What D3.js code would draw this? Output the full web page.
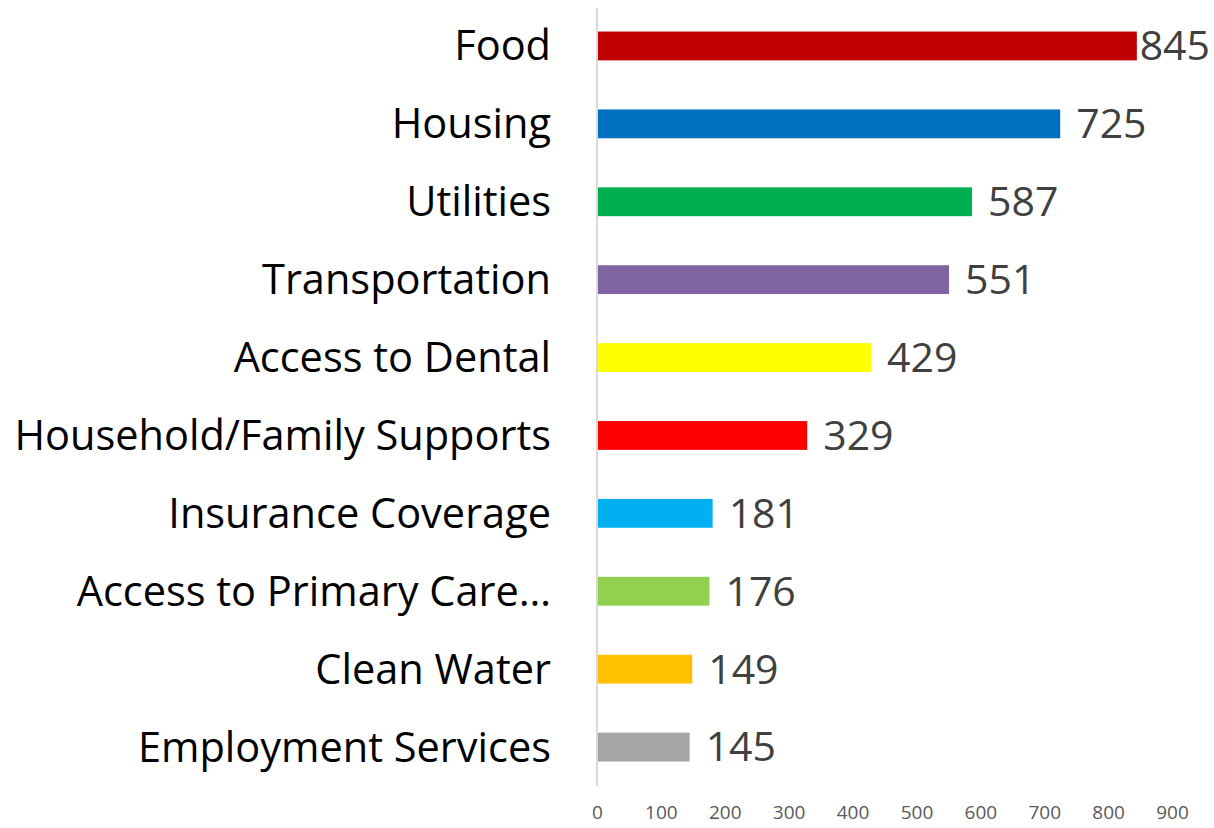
<!DOCTYPE html>
<html lang="en">
<head>
    <meta charset="UTF-8">
    <title>Needs</title>
    <script src="https://d3js.org/d3.v7.min.js"></script>
    <style>
        html, body {
            margin: 0;
            padding: 0;
            background: #fff;
        }
        .cat {
            font-family: "Open Sans", sans-serif;
            font-size: 41.5px;
            fill: #000;
        }
        .val {
            font-family: "Open Sans", sans-serif;
            font-size: 41px;
            fill: #404040;
        }
        .tick text {
            font-family: "Open Sans", sans-serif;
            font-size: 19px;
            fill: #595959;
        }
    </style>
</head>
<body>
<div id="chart"></div>
<script>
    var categories = ["Food", "Housing", "Utilities", "Transportation", "Access to Dental",
        "Household/Family Supports", "Insurance Coverage", "Access to Primary Care…",
        "Clean Water", "Employment Services"];
    var values = [845, 725, 587, 551, 429, 329, 181, 176, 149, 145];
    var colors = ["#C00000", "#0070C0", "#00B050", "#8064A2", "#FFFF00",
        "#FF0000", "#00B0F0", "#92D050", "#FFC000", "#A5A5A5"];
    var tickValues = [0, 100, 200, 300, 400, 500, 600, 700, 800, 900];

    var width = 1214, height = 828;

    var svg = d3.select("#chart").append("svg")
        .attr("width", width)
        .attr("height", height);

    var x = d3.scaleLinear()
        .domain([0, 900])
        .range([597, 1172]);

    var y = d3.scaleBand()
        .domain(categories)
        .range([7, 786])
        .paddingInner(0.63)
        .paddingOuter(0.315);

    var data = categories.map(function (c, i) {
        return { name: c, val: values[i], color: colors[i] };
    });

    // bars
    svg.append("g")
        .selectAll("rect")
        .data(data)
        .enter().append("rect")
        .attr("x", x(0))
        .attr("y", d => y(d.name))
        .attr("width", d => x(d.val) - x(0))
        .attr("height", y.bandwidth())
        .attr("fill", d => d.color);

    // vertical axis line
    svg.append("line")
        .attr("x1", x(0)).attr("x2", x(0))
        .attr("y1", 8).attr("y2", 786)
        .attr("stroke", "#d9d9d9")
        .attr("stroke-width", 2);

    // category labels
    svg.append("g")
        .selectAll("text")
        .data(data)
        .enter().append("text")
        .attr("class", "cat")
        .attr("x", x(0) - 46)
        .attr("y", d => y(d.name) + y.bandwidth() / 2)
        .attr("dy", "0.35em")
        .attr("text-anchor", "end")
        .text(d => d.name);

    // value labels
    svg.append("g")
        .selectAll("text")
        .data(data)
        .enter().append("text")
        .attr("class", "val")
        .attr("y", d => y(d.name) + y.bandwidth() / 2)
        .attr("dy", "0.35em")
        .text(d => d.val)
        .attr("x", function (d) {
            var w = this.getComputedTextLength();
            return Math.min(x(d.val) + 16, width - 4 - w);
        });

    // bottom axis, labels only
    var axis = svg.append("g")
        .attr("transform", "translate(0, 804)")
        .call(d3.axisBottom(x).tickValues(tickValues).tickSize(0).tickPadding(1));
    axis.select(".domain").remove();
</script>
</body>
</html>
